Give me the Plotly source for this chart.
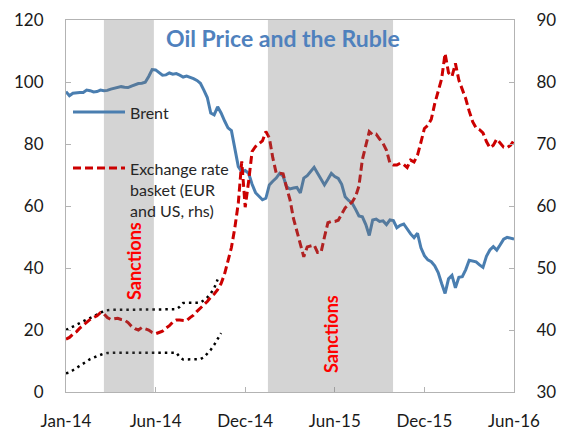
import plotly.graph_objects as go

# ---- data (weekly, Jan-14 .. Jun-16) ----
tick_labels = ["Jan-14", "Jun-14", "Dec-14", "Jun-15", "Dec-15", "Jun-16"]
tick_weeks = [0, 26, 52, 78, 104, 130]

brent = [96.9, 95.6, 96.4, 96.6, 96.6, 96.6, 97.4, 97.2, 96.8, 96.9,
         97.4, 97.2, 97.3, 97.7, 98.0, 98.2, 98.5, 98.3, 98.2, 98.7,
         99.2, 99.5, 99.6, 99.9, 101.8, 104.0, 103.9, 103.0, 102.2, 102.3,
         102.9, 102.5, 102.7, 102.2, 101.6, 101.9, 101.6, 101.1, 100.5, 99.6,
         97.4, 95.0, 90.0, 89.4, 92.0, 90.0, 87.5, 85.2, 84.3, 78.1,
         72.7, 71.1, 71.5, 70.5, 67.0, 64.3, 63.3, 62.0, 62.5, 66.8,
         68.0, 69.0, 70.5, 69.7, 66.2, 65.5, 65.8, 66.0, 64.2, 69.0,
         69.8, 71.0, 72.5, 70.6, 68.5, 66.8, 68.6, 70.5, 69.5, 68.9,
         67.0, 63.0, 61.8, 61.0, 59.0, 56.8, 56.5, 54.0, 50.5, 55.5,
         55.8, 55.0, 55.2, 54.0, 55.5, 55.3, 53.0, 53.8, 54.2, 52.5,
         51.0, 49.8, 51.2, 46.5, 44.0, 42.6, 42.0, 40.7, 38.5, 35.0,
         31.8, 36.5, 37.6, 33.6, 37.0, 37.2, 39.5, 42.5, 42.3, 42.0,
         41.0, 40.2, 43.8, 45.8, 46.9, 45.8, 47.5, 49.3, 49.9, 49.7,
         49.3]

ruble_basket = [38.5, 38.8, 39.3, 39.7, 40.3, 40.8, 41.2, 41.7, 42.0, 42.3,
                42.8, 42.6, 42.0, 41.7, 41.8, 41.9, 41.7, 41.6, 41.2, 40.6,
                40.2, 40.0, 40.4, 40.2, 40.0, 39.6, 39.4, 39.6, 39.8, 40.3,
                40.7, 41.3, 41.6, 41.6, 41.5, 41.5, 42.0, 42.4, 43.0, 43.5,
                44.0, 44.6, 45.3, 45.8, 46.5, 47.5, 49.0, 51.3, 53.3, 56.5,
                60.5, 67.2, 59.8, 64.0, 68.8, 69.6, 70.1, 70.5, 72.0, 71.0,
                67.8, 65.3, 65.3, 65.2, 63.0, 61.0, 58.0, 56.0, 54.0, 51.8,
                53.4, 53.6, 53.7, 52.5, 52.5, 55.0, 57.3, 57.5, 57.5, 57.7,
                58.8, 59.7, 60.2, 60.6, 61.5, 63.2, 67.5, 69.8, 72.0, 71.5,
                71.6, 70.8, 70.1, 69.0, 66.9, 66.6, 66.6, 66.9, 66.7, 66.2,
                67.4, 67.1, 68.2, 70.3, 72.5, 73.0, 74.0, 76.5, 78.5, 80.5,
                84.6, 81.5, 80.9, 83.0, 80.3, 78.8, 77.3, 75.3, 73.6, 72.6,
                72.3, 71.8, 70.4, 69.4, 69.8, 70.8, 70.2, 69.5, 69.4, 69.8,
                70.6]

band_upper = [20.0, 20.5, 21.0, 21.6, 22.2, 22.8, 23.3, 23.8, 24.3, 24.9,
              25.5, 26.2, 26.4, 26.5, 26.5, 26.5, 26.5, 26.5, 26.5, 26.6,
              26.6, 26.6, 26.6, 26.6, 26.6, 26.6, 26.6, 26.6, 26.7, 26.7,
              26.7, 26.7, 26.7, 27.5, 28.7, 28.8, 28.8, 28.8, 28.8, 28.8,
              29.6, 30.5, 31.8, 33.5, 36.3]

band_lower = [6.0, 6.3, 7.0, 7.7, 8.6, 9.3, 10.0, 10.6, 11.1, 11.6,
              12.0, 12.4, 12.6, 12.7, 12.7, 12.7, 12.7, 12.7, 12.7, 12.7,
              12.7, 12.7, 12.7, 12.7, 12.7, 12.7, 12.7, 12.7, 12.7, 12.7,
              12.7, 12.7, 12.7, 11.2, 10.5, 10.5, 10.5, 10.5, 10.5, 10.6,
              11.2, 12.3, 13.6, 15.2, 17.0, 19.0]

sanction_periods = [(11.0, 25.5), (58.6, 94.9)]

# ---- geometry helpers (plot area in pixels) ----
W, H = 562, 432
L, R, T, B = 66, 514, 20, 392


def px(xp):
    return (xp - L) / (R - L)


def py(yp):
    return (B - yp) / (B - T)


BLUE = "#4a7eb0"
RED = "#cc0000"
FONT = "Lato"

fig = go.Figure()

fig.add_trace(go.Scatter(x=list(range(len(band_upper))), y=band_upper, mode="lines",
                         line=dict(color="black", width=2.5, dash="2.5px,4px"),
                         showlegend=False, hoverinfo="skip"))
fig.add_trace(go.Scatter(x=list(range(len(band_lower))), y=band_lower, mode="lines",
                         line=dict(color="black", width=2.5, dash="2.5px,4px"),
                         showlegend=False, hoverinfo="skip"))
fig.add_trace(go.Scatter(x=list(range(len(brent))), y=brent, mode="lines",
                         name="Brent", line=dict(color=BLUE, width=3),
                         showlegend=False))
fig.add_trace(go.Scatter(x=list(range(len(ruble_basket))), y=ruble_basket, mode="lines",
                         name="Exchange rate basket (EUR and US, rhs)",
                         line=dict(color=RED, width=3, dash="8px,4px"),
                         yaxis="y2", showlegend=False))

shapes = []
for a, b in sanction_periods:
    shapes.append(dict(type="rect", xref="x", yref="paper", x0=a, x1=b, y0=0, y1=1,
                       fillcolor="rgba(112,112,112,0.30)", line=dict(width=0),
                       layer="above"))
# manual legend symbols
shapes.append(dict(type="line", xref="paper", yref="paper", x0=px(73), x1=px(125),
                   y0=py(112), y1=py(112), line=dict(color=BLUE, width=3)))
shapes.append(dict(type="line", xref="paper", yref="paper", x0=px(73), x1=px(125),
                   y0=py(168), y1=py(168), line=dict(color=RED, width=3, dash="8px,4px")))

annotations = [
    dict(text="<b>Oil Price and the Ruble</b>", x=px(283), y=py(38), xref="paper", yref="paper",
         showarrow=False, font=dict(family=FONT, size=23, color="#4f81bd"),
         xanchor="center", yanchor="middle"),
    dict(text="Brent", x=px(128), y=py(112), xref="paper", yref="paper", showarrow=False,
         font=dict(family=FONT, size=16, color="#262626"), xanchor="left", yanchor="middle"),
    dict(text="Exchange rate<br>basket (EUR<br>and US, rhs)", x=px(128), y=py(157),
         xref="paper", yref="paper", showarrow=False, align="left",
         font=dict(family=FONT, size=16, color="#262626"), xanchor="left", yanchor="top"),
    dict(text="<b>Sanctions</b>", x=px(134), y=py(261), xref="paper", yref="paper",
         showarrow=False, textangle=-90, font=dict(family=FONT, size=18, color="#ff0000"),
         xanchor="center", yanchor="middle"),
    dict(text="<b>Sanctions</b>", x=px(331), y=py(334), xref="paper", yref="paper",
         showarrow=False, textangle=-90, font=dict(family=FONT, size=18, color="#ff0000"),
         xanchor="center", yanchor="middle"),
]

axis_common = dict(showgrid=False, zeroline=False, showline=True, linecolor="#b3b3b3",
                   linewidth=1, ticks="inside", ticklen=5, tickcolor="#b3b3b3",
                   automargin=False,
                   tickfont=dict(family=FONT, size=17, color="#1a1a1a"))

fig.update_layout(
    width=W, height=H,
    margin=dict(l=L, r=W - R, t=T, b=H - B),
    plot_bgcolor="white", paper_bgcolor="white",
    shapes=shapes, annotations=annotations,
    xaxis=dict(range=[0, 130], tickvals=tick_weeks, ticktext=tick_labels,
               mirror=True, ticklabelstandoff=14, **axis_common),
    yaxis=dict(range=[0, 120], dtick=20, tick0=0, mirror=True,
               ticklabelstandoff=18, **axis_common),
    yaxis2=dict(range=[30, 90], dtick=10, tick0=30, overlaying="y", side="right",
                ticklabelstandoff=18, **axis_common),
    font=dict(family=FONT),
)

fig.write_html("out.html", config={"displayModeBar": False},
               post_script="document.body.style.margin='0px';document.body.style.overflow='hidden';")
